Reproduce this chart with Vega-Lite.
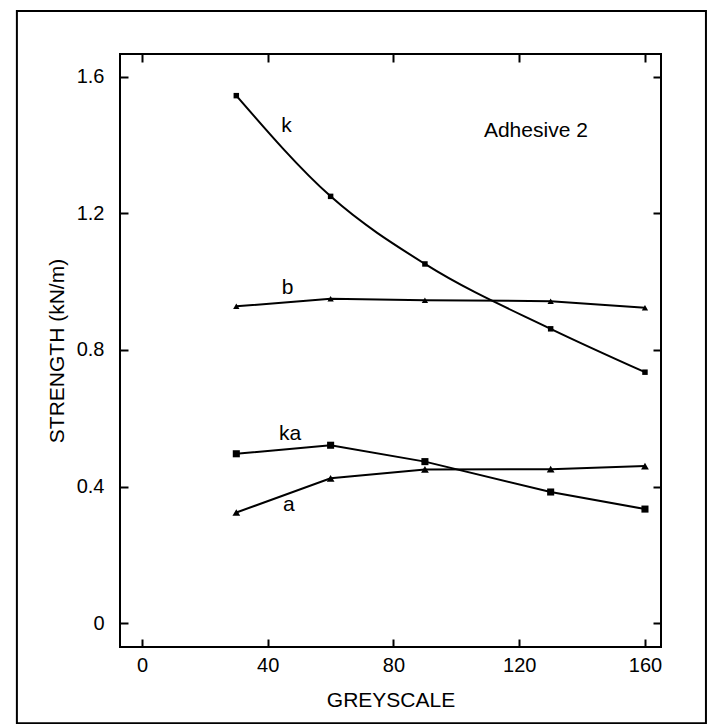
{
  "$schema": "https://vega.github.io/schema/vega-lite/v6.json",
  "width": 541,
  "height": 593,
  "padding": {"left": 15, "top": 9, "right": 5, "bottom": 2},
  "background": "white",
  "config": {
    "view": {"stroke": "#000", "strokeWidth": 2},
    "font": "Liberation Sans",
    "axis": {
      "domain": false,
      "grid": false,
      "tickColor": "#000",
      "tickWidth": 2,
      "tickSize": -8,
      "labelColor": "#000",
      "labelFont": "Liberation Sans",
      "labelFontSize": 20,
      "titleFont": "Liberation Sans",
      "titleFontSize": 21,
      "titleFontWeight": "normal",
      "titleColor": "#000"
    }
  },
  "datasets": {
    "pts": [
      {"series": "k", "greyscale": 30, "strength": 1.545},
      {"series": "k", "greyscale": 60, "strength": 1.250},
      {"series": "k", "greyscale": 90, "strength": 1.052},
      {"series": "k", "greyscale": 130, "strength": 0.862},
      {"series": "k", "greyscale": 160, "strength": 0.735},
      {"series": "b", "greyscale": 30, "strength": 0.928},
      {"series": "b", "greyscale": 60, "strength": 0.950},
      {"series": "b", "greyscale": 90, "strength": 0.946},
      {"series": "b", "greyscale": 130, "strength": 0.943},
      {"series": "b", "greyscale": 160, "strength": 0.924},
      {"series": "ka", "greyscale": 30, "strength": 0.496},
      {"series": "ka", "greyscale": 60, "strength": 0.521},
      {"series": "ka", "greyscale": 90, "strength": 0.473},
      {"series": "ka", "greyscale": 130, "strength": 0.384},
      {"series": "ka", "greyscale": 160, "strength": 0.334},
      {"series": "a", "greyscale": 30, "strength": 0.324},
      {"series": "a", "greyscale": 60, "strength": 0.424},
      {"series": "a", "greyscale": 90, "strength": 0.450},
      {"series": "a", "greyscale": 130, "strength": 0.451},
      {"series": "a", "greyscale": 160, "strength": 0.460}
    ],
    "labels": [
      {"label": "k", "greyscale": 46.0, "strength": 1.455},
      {"label": "b", "greyscale": 46.3, "strength": 0.983},
      {"label": "ka", "greyscale": 47.1, "strength": 0.555},
      {"label": "a", "greyscale": 46.7, "strength": 0.345},
      {"label": "Adhesive 2", "greyscale": 125.3, "strength": 1.442}
    ]
  },
  "layer": [
    {
      "data": {"name": "pts"},
      "transform": [{"filter": "datum.series != 'k'"}],
      "mark": {"type": "line", "color": "#000", "strokeWidth": 2},
      "encoding": {
        "x": {"field": "greyscale", "type": "quantitative", "scale": {"domain": [-7, 165.1]},
              "axis": {"orient": "bottom", "values": [0, 40, 80, 120, 160], "title": "GREYSCALE", "labelPadding": 16, "titlePadding": 14}},
        "y": {"field": "strength", "type": "quantitative", "scale": {"domain": [-0.07, 1.667]},
              "axis": {"orient": "left", "values": [0, 0.4, 0.8, 1.2, 1.6], "format": "~g", "title": "STRENGTH (kN/m)", "labelPadding": 24, "titlePadding": 9}},
        "detail": {"field": "series"}
      }
    },
    {
      "data": {"name": "pts"},
      "transform": [{"filter": "datum.series == 'k'"}],
      "mark": {"type": "line", "color": "#000", "strokeWidth": 2, "interpolate": "monotone"},
      "encoding": {
        "x": {"field": "greyscale", "type": "quantitative", "scale": {"domain": [-7, 165.1]},
              "axis": {"orient": "top", "values": [0, 40, 80, 120, 160], "labels": false, "title": null}},
        "y": {"field": "strength", "type": "quantitative", "scale": {"domain": [-0.07, 1.667]},
              "axis": {"orient": "right", "values": [0, 0.4, 0.8, 1.2, 1.6], "labels": false, "title": null}}
      }
    },
    {
      "data": {"name": "pts"},
      "mark": {"type": "point", "filled": true, "color": "#000", "opacity": 1},
      "encoding": {
        "x": {"field": "greyscale", "type": "quantitative", "scale": {"domain": [-7, 165.1]}, "axis": null},
        "y": {"field": "strength", "type": "quantitative", "scale": {"domain": [-0.07, 1.667]}, "axis": null},
        "shape": {"field": "series", "type": "nominal",
                  "scale": {"domain": ["k", "b", "ka", "a"], "range": ["square", "triangle-up", "square", "triangle-up"]}, "legend": null},
        "size": {"field": "series", "type": "nominal",
                 "scale": {"domain": ["k", "b", "ka", "a"], "range": [30, 60, 55, 60]}, "legend": null}
      }
    },
    {
      "data": {"name": "labels"},
      "mark": {"type": "text", "color": "#000", "fontSize": 21, "font": "Liberation Sans", "align": "center", "baseline": "middle"},
      "encoding": {
        "x": {"field": "greyscale", "type": "quantitative", "scale": {"domain": [-7, 165.1]}, "axis": null},
        "y": {"field": "strength", "type": "quantitative", "scale": {"domain": [-0.07, 1.667]}, "axis": null},
        "text": {"field": "label"}
      }
    },
    {
      "data": {"values": [{}]},
      "mark": {"type": "rect", "filled": false, "stroke": "#000", "strokeWidth": 2, "clip": false},
      "encoding": {
        "x": {"datum": -39.8, "type": "quantitative", "scale": {"domain": [-7, 165.1]}, "axis": null},
        "x2": {"datum": 179.4},
        "y": {"datum": -0.293, "type": "quantitative", "scale": {"domain": [-0.07, 1.667]}, "axis": null},
        "y2": {"datum": 1.793}
      }
    }
  ],
  "resolve": {"axis": {"x": "independent", "y": "independent"}}
}
